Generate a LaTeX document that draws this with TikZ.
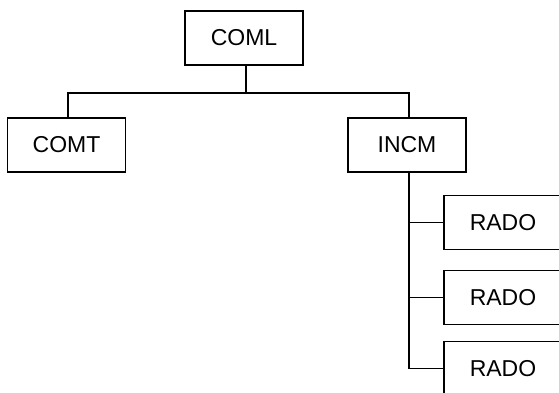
\documentclass[tikz,border=0pt]{standalone}
\usepackage{fontspec}
\setmainfont{Liberation Sans}
\usepackage{tikz}
\usetikzlibrary{positioning,calc}

\begin{document}
\begin{tikzpicture}[x=1pt, y=-1pt,
        mod/.style={rectangle, draw=black, line width=1.4pt, fill=white,
                    minimum width=118pt, minimum height=54pt,
                    inner sep=0pt, font=\fontsize{23}{27}\selectfont},
        link/.style={line width=1.4pt, black},
      ]
      \clip (0,0) rectangle (559,393);
      \node[mod] (coml) at (244,38) {COML};
      \node[mod] (comt) at (66.5,145) {COMT};
      \node[mod] (incm) at (407,145) {INCM};
      \node[mod] (rado1) at (503,222.5) {RADO};
      \node[mod] (rado2) at (503,297.5) {RADO};
      \node[mod] (rado3) at (503,368.5) {RADO};
      \coordinate (bus) at (246,93);
      \draw[link] (coml.south -| bus) -- (bus);
      \draw[link] ([xshift=1.5pt]comt.north) |- (bus) -| ([xshift=2pt]incm.north);
      \draw[link] ([xshift=2pt]incm.south) |- (rado3.west);
      \draw[link] ([xshift=2pt]incm.south |- rado1.west) -- (rado1.west);
      \draw[link] ([xshift=2pt]incm.south |- rado2.west) -- (rado2.west);
    \end{tikzpicture}
\end{document}
